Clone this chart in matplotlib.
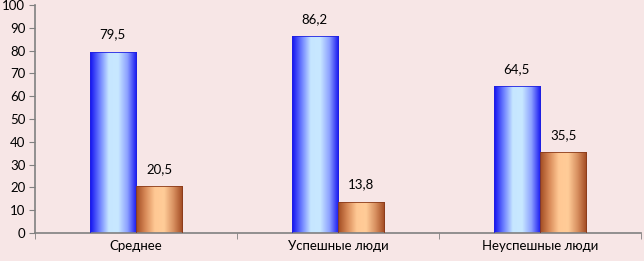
import numpy as np
import matplotlib
matplotlib.use("Agg")
import matplotlib.pyplot as plt
from matplotlib.colors import LinearSegmentedColormap

categories = ["Среднее", "Успешные люди", "Неуспешные люди"]
series_a = [79.5, 86.2, 64.5]
series_b = [20.5, 13.8, 35.5]
labels_a = ["79,5", "86,2", "64,5"]
labels_b = ["20,5", "13,8", "35,5"]
yticks = [0, 10, 20, 30, 40, 50, 60, 70, 80, 90, 100]

plt.rcParams['font.family'] = ['Lato', 'DejaVu Sans']
bg = "#F7E6E6"
fs = 9.5
fig = plt.figure(figsize=(6.44, 2.61), dpi=100, facecolor=bg)
ax = fig.add_axes([35/644, 28/261, 606/644, 228/261], facecolor=bg)

x = np.arange(len(categories))
w = 0.23
bars_a = ax.bar(x - w/2, series_a, w, color="none", edgecolor="#2020E0", linewidth=0.6, zorder=3)
bars_b = ax.bar(x + w/2, series_b, w, color="none", edgecolor="#8A3A1A", linewidth=0.6, zorder=3)

cmap_a = LinearSegmentedColormap.from_list("a", ["#1010F0", "#6A7CFF", "#C6E6FF", "#C8E8FF", "#8CA0FF", "#1414F0"])
cmap_b = LinearSegmentedColormap.from_list("b", ["#A04A20", "#D88A58", "#FFC894", "#FFCC98", "#D89060", "#A04820"])
grad = np.linspace(0, 1, 256).reshape(1, -1)

for bars, cmap in ((bars_a, cmap_a), (bars_b, cmap_b)):
    for b in bars:
        x0, y0 = b.get_x(), b.get_y()
        im = ax.imshow(grad, cmap=cmap, aspect="auto",
                       extent=(x0, x0 + b.get_width(), y0, y0 + b.get_height()), zorder=2)
        im.set_clip_path(b)

for b, t in zip(bars_a, labels_a):
    ax.annotate(t, (b.get_x() + b.get_width()/2, b.get_height()), xytext=(0, 8),
                textcoords="offset points", ha="center", va="bottom", fontsize=fs)
for b, t in zip(bars_b, labels_b):
    ax.annotate(t, (b.get_x() + b.get_width()/2, b.get_height()), xytext=(0, 8),
                textcoords="offset points", ha="center", va="bottom", fontsize=fs)

ax.set_xlim(-0.5, len(categories) - 0.5)
ax.set_ylim(0, 100)
ax.set_yticks(yticks)
ax.set_yticklabels([str(v) for v in yticks], fontsize=fs)
ax.set_xticks(x)
ax.set_xticklabels(categories, fontsize=fs)
ax.set_xticks(np.arange(len(categories) + 1) - 0.5, minor=True)
ax.tick_params(axis="x", which="major", length=0, pad=5)
ax.tick_params(axis="x", which="minor", length=4, color="#808080", direction="out")
ax.tick_params(axis="y", length=4, color="#808080", direction="out", pad=3)
for s in ["top", "right"]:
    ax.spines[s].set_visible(False)
for s in ["left", "bottom"]:
    ax.spines[s].set_color("#808080")
    ax.spines[s].set_linewidth(1.2)

fig.savefig("out.png", dpi=100, facecolor=bg)
